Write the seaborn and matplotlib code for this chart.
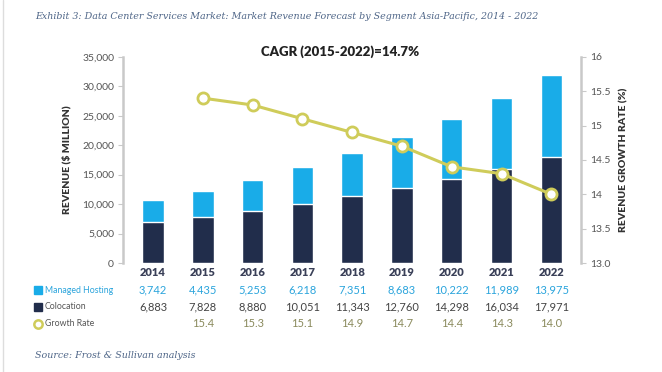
import seaborn as sns
import matplotlib.pyplot as plt
import matplotlib.lines as mlines
import pandas as pd
import numpy as np

years = ["2014", "2015", "2016", "2017", "2018", "2019", "2020", "2021", "2022"]
managed_hosting = [3742, 4435, 5253, 6218, 7351, 8683, 10222, 11989, 13975]
colocation = [6883, 7828, 8880, 10051, 11343, 12760, 14298, 16034, 17971]
growth_years = ["2015", "2016", "2017", "2018", "2019", "2020", "2021", "2022"]
growth_rate = [15.4, 15.3, 15.1, 14.9, 14.7, 14.4, 14.3, 14.0]
left_ticks = [0, 5000, 10000, 15000, 20000, 25000, 30000, 35000]
right_ticks = [13.0, 13.5, 14, 14.5, 15, 15.5, 16]
right_tick_labels = ["13.0", "13.5", "14", "14.5", "15", "15.5", "16"]

BLUE = "#19ace8"
NAVY = "#212d4b"
OLIVE = "#cfcc5a"
GRID = "#c9c9c9"

sns.set_style("white")
plt.rcParams["font.family"] = ["Lato", "DejaVu Sans"]

df = pd.DataFrame({"year": years, "mh": managed_hosting, "colo": colocation})
df["total"] = df["mh"] + df["colo"]
gdf = pd.DataFrame({"pos": [years.index(y) for y in growth_years], "rate": growth_rate})

fig = plt.figure(figsize=(6.62, 3.72), dpi=100)
ax = fig.add_axes([0.186, 0.293, 0.692, 0.554])

sns.barplot(data=df, x="year", y="total", color=BLUE, width=0.43, ax=ax, saturation=1)
sns.barplot(data=df, x="year", y="colo", color=NAVY, width=0.43, ax=ax, saturation=1)
ax.set_xlim(-0.6, 8.6)
ax.set_ylim(0, 35000)
ax.set_yticks(left_ticks)
ax.set_yticklabels([f"{v:,}" for v in left_ticks], fontsize=7.5, color="#555555")
ax.set_xlabel("")
ax.set_ylabel("REVENUE ($ MILLION)", fontsize=7.5, fontweight="heavy", color="#333333", labelpad=8)
ax.tick_params(axis="x", length=0, labelsize=8, labelcolor="#3a4058", pad=3)
for lbl in ax.get_xticklabels():
    lbl.set_fontweight("heavy")

ax2 = ax.twinx()
sns.lineplot(data=gdf, x="pos", y="rate", color=OLIVE, lw=2.2, marker="o", markersize=8,
             markerfacecolor="white", markeredgecolor=OLIVE, markeredgewidth=2, ax=ax2)
ax2.set_xlim(-0.6, 8.6)
ax2.set_ylim(13, 16)
ax2.set_yticks(right_ticks)
ax2.set_yticklabels(right_tick_labels, fontsize=7.5, color="#555555")
ax2.set_ylabel("REVENUE GROWTH RATE (%)", fontsize=7.5, fontweight="heavy", color="#333333", labelpad=6)

for a in (ax, ax2):
    for s in ["top", "bottom"]:
        a.spines[s].set_visible(False)
ax.spines["right"].set_visible(False)
ax2.spines["left"].set_visible(False)
ax.spines["left"].set_color(GRID)
ax.spines["left"].set_linewidth(1.8)
ax2.spines["right"].set_color(GRID)
ax2.spines["right"].set_linewidth(1.8)
for t in ax.yaxis.get_major_ticks():
    t.tick1line.set_marker("o")
    t.tick1line.set_markersize(4)
    t.tick1line.set_markerfacecolor("white")
    t.tick1line.set_markeredgecolor(GRID)
for t in ax2.yaxis.get_major_ticks():
    t.tick2line.set_marker("o")
    t.tick2line.set_markersize(4)
    t.tick2line.set_markerfacecolor("white")
    t.tick2line.set_markeredgecolor(GRID)
ax.tick_params(axis="y", pad=3)
ax2.tick_params(axis="y", pad=3)
ax.set_zorder(1)
ax.patch.set_visible(False)
ax2.set_zorder(2)

# CAGR note
fig.text(0.514, 0.862, "CAGR (2015-2022)=14.7%", ha="center", va="center",
         fontsize=9.5, fontweight="heavy", color="#222222")

# data table under the chart
rows = [("Managed Hosting", managed_hosting, BLUE, "#2aa4dc", "#2aa4dc", 0.220),
        ("Colocation", colocation, NAVY, "#555555", "#444444", 0.175)]
for name, vals, mcol, lcol, tcol, yy in rows:
    fig.text(0.068, yy, name, ha="left", va="center", fontsize=6.3, color=lcol)
    fig.add_artist(mlines.Line2D([0.058], [yy], marker="s", markersize=6, color=mcol, transform=fig.transFigure))
    for i, v in enumerate(vals):
        xf = ax.transData.transform((i, 0))[0] / fig.bbox.width
        fig.text(xf, yy, f"{v:,}", ha="center", va="center", fontsize=8, color=tcol)

yy = 0.130
fig.text(0.068, yy, "Growth Rate", ha="left", va="center", fontsize=6.3, color="#555555")
fig.add_artist(mlines.Line2D([0.058], [yy], marker="o", markersize=6, markerfacecolor="white",
                             markeredgecolor=OLIVE, markeredgewidth=1.8, transform=fig.transFigure))
for p, v in zip(gdf["pos"], growth_rate):
    xf = ax.transData.transform((p, 0))[0] / fig.bbox.width
    fig.text(xf, yy, f"{v:.1f}", ha="center", va="center", fontsize=8, color="#8a8a5c")

fig.text(0.053, 0.955, "Exhibit 3: Data Center Services Market: Market Revenue Forecast by Segment Asia-Pacific, 2014 - 2022",
         ha="left", va="center", fontsize=6.8, style="italic", family="DejaVu Serif", color="#4f6688")
fig.text(0.053, 0.045, "Source: Frost & Sullivan analysis", ha="left", va="center",
         fontsize=6.8, style="italic", family="DejaVu Serif", color="#4f6688")
fig.add_artist(mlines.Line2D([0.005, 0.005], [0.0, 1.0], color="#dddddd", lw=1, transform=fig.transFigure))

fig.savefig("out.png", dpi=100)
